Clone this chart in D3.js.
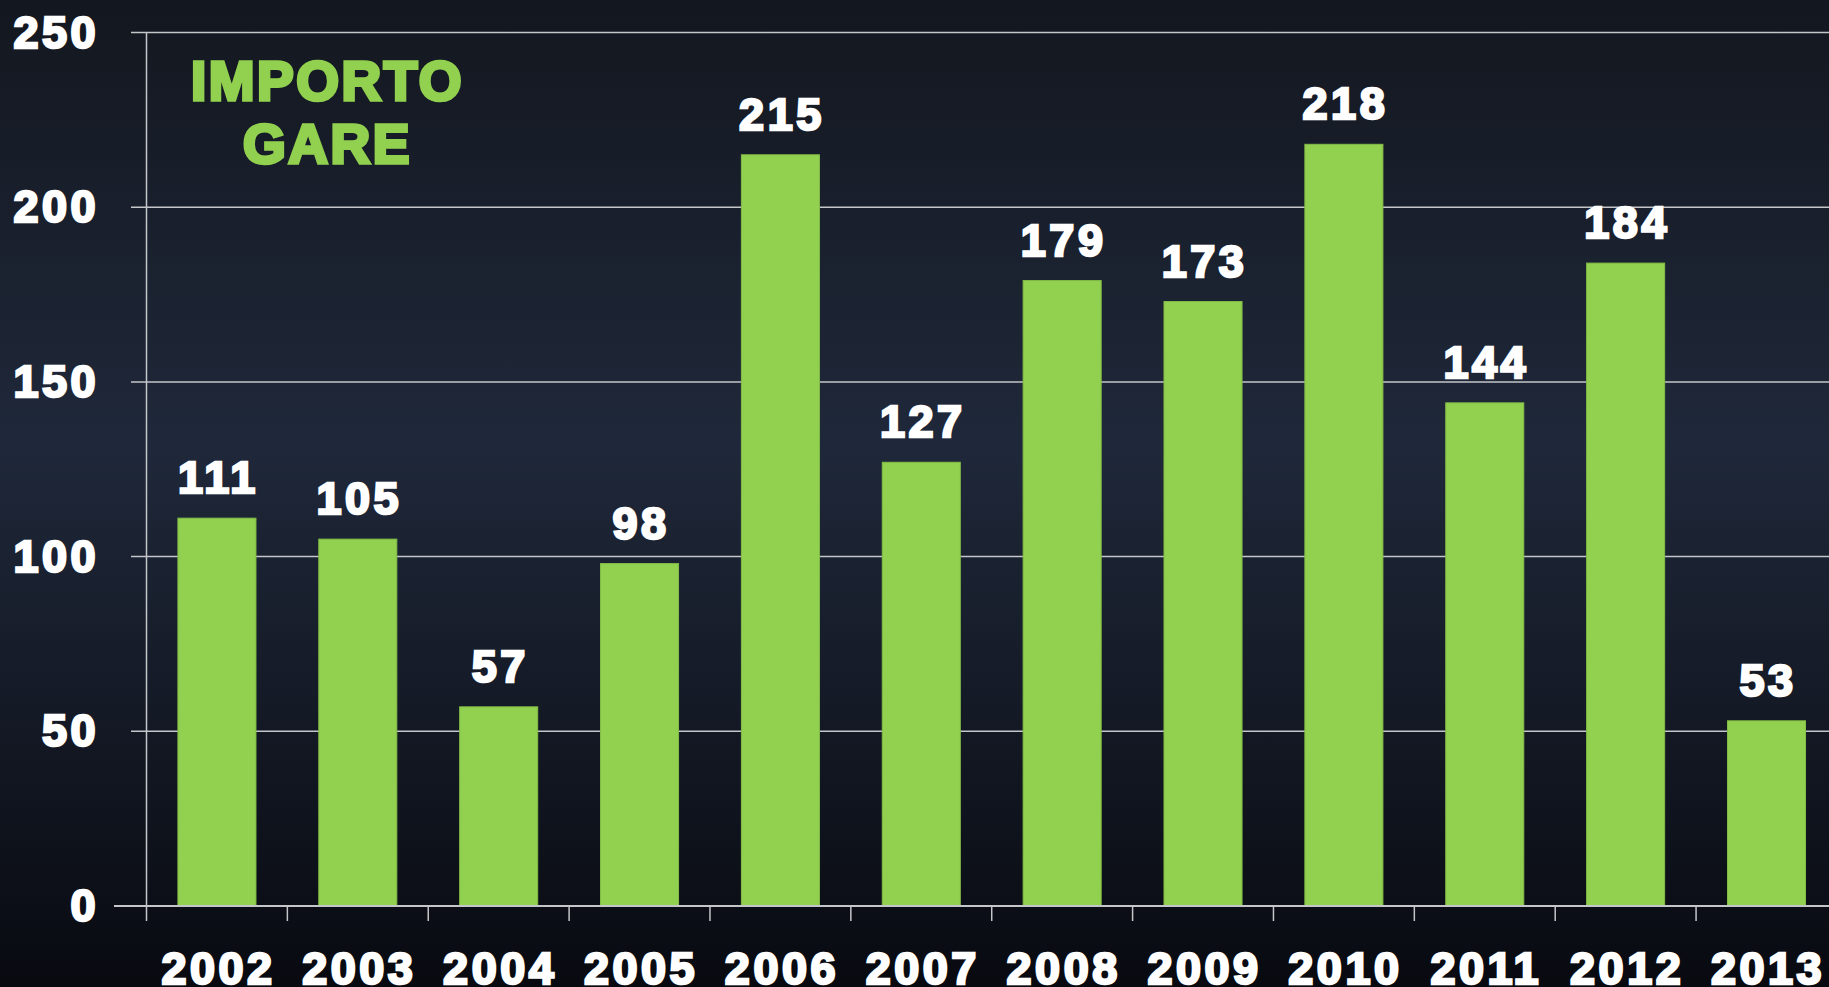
<!DOCTYPE html>
<html>
<head>
<meta charset="utf-8">
<script src="https://cdn.jsdelivr.net/npm/d3@7"></script>
<style>
  html, body { margin: 0; padding: 0; background: #0b0e15; overflow: hidden; }
  svg { display: block; }
  .tick-label, .value-label, .title {
    font-family: "Liberation Sans", Arial, sans-serif;
    font-weight: bold;
    paint-order: stroke;
  }
</style>
</head>
<body>
<div class="chart"></div>
<script>
const years = ["2002", "2003", "2004", "2005", "2006", "2007", "2008", "2009", "2010", "2011", "2012", "2013"];
const importo = [111, 105, 57, 98, 215, 127, 179, 173, 218, 144, 184, 53];
const yTicks = [0, 50, 100, 150, 200, 250];
const titleLines = ["IMPORTO", "GARE"];

const width = 1829;
const height = 987;
const green = "#92d050";
const gridColor = "#c4c6c9";

const svg = d3.select(".chart").append("svg")
  .attr("width", width)
  .attr("height", height);

// background gradient
const grad = svg.append("defs").append("linearGradient")
  .attr("id", "bg")
  .attr("x1", 0).attr("y1", 0).attr("x2", 0).attr("y2", 1);
grad.append("stop").attr("offset", "0%").attr("stop-color", "#13171f");
grad.append("stop").attr("offset", "45%").attr("stop-color", "#1f283a");
grad.append("stop").attr("offset", "100%").attr("stop-color", "#080a10");

svg.append("rect")
  .attr("width", width)
  .attr("height", height)
  .attr("fill", "url(#bg)");

const x0 = 146.5;
const step = 140.87;

const x = d3.scaleBand()
  .domain(years)
  .range([x0, x0 + step * years.length])
  .paddingInner(0.446)
  .paddingOuter(0.223);

const y = d3.scaleLinear()
  .domain([0, 250])
  .range([906, 32.5]);

// gridlines
svg.append("g")
  .selectAll("line")
  .data(yTicks.filter(d => d > 0))
  .enter()
  .append("line")
  .attr("x1", 131)
  .attr("x2", width)
  .attr("y1", d => y(d))
  .attr("y2", d => y(d))
  .attr("stroke", gridColor)
  .attr("stroke-width", 1.5);

// bars
svg.append("g")
  .selectAll("rect")
  .data(importo)
  .enter()
  .append("rect")
  .attr("x", (d, i) => x(years[i]))
  .attr("y", d => y(d))
  .attr("width", x.bandwidth())
  .attr("height", d => y(0) - y(d))
  .attr("fill", green)
  .attr("stroke", "#84bd47")
  .attr("stroke-width", 1);

// y axis line
svg.append("line")
  .attr("x1", x0).attr("x2", x0)
  .attr("y1", y(250)).attr("y2", 921)
  .attr("stroke", gridColor)
  .attr("stroke-width", 1.5);

// x axis (zero line + ticks)
svg.append("line")
  .attr("x1", 114).attr("x2", width)
  .attr("y1", y(0)).attr("y2", y(0))
  .attr("stroke", gridColor)
  .attr("stroke-width", 2);

svg.append("g")
  .selectAll("line")
  .data(years.slice(1))
  .enter()
  .append("line")
  .attr("x1", d => x(d) - x.step() * x.paddingInner() / 2)
  .attr("x2", d => x(d) - x.step() * x.paddingInner() / 2)
  .attr("y1", y(0))
  .attr("y2", 921)
  .attr("stroke", gridColor)
  .attr("stroke-width", 1.5);

// y tick labels
svg.append("g")
  .selectAll("text")
  .data(yTicks)
  .enter()
  .append("text")
  .attr("class", "tick-label")
  .attr("x", 99)
  .attr("y", d => y(d) + 15)
  .attr("text-anchor", "end")
  .attr("font-size", 45)
  .attr("letter-spacing", 3.5)
  .attr("fill", "#fff")
  .attr("stroke", "#fff")
  .attr("stroke-width", 2.5)
  .text(d => d);

// x tick labels
svg.append("g")
  .selectAll("text")
  .data(years)
  .enter()
  .append("text")
  .attr("class", "tick-label")
  .attr("x", d => x(d) + x.bandwidth() / 2 + 1.5)
  .attr("y", 984)
  .attr("text-anchor", "middle")
  .attr("font-size", 45)
  .attr("letter-spacing", 3.5)
  .attr("fill", "#fff")
  .attr("stroke", "#fff")
  .attr("stroke-width", 2.5)
  .text(d => d);

// value labels
svg.append("g")
  .selectAll("text")
  .data(importo)
  .enter()
  .append("text")
  .attr("class", "value-label")
  .attr("x", (d, i) => x(years[i]) + x.bandwidth() / 2 + 1.5)
  .attr("y", d => y(d) - 25)
  .attr("text-anchor", "middle")
  .attr("font-size", 45)
  .attr("letter-spacing", 3.5)
  .attr("fill", "#fff")
  .attr("stroke", "#fff")
  .attr("stroke-width", 2.5)
  .text(d => d);

// title
svg.append("g")
  .selectAll("text")
  .data(titleLines)
  .enter()
  .append("text")
  .attr("class", "title")
  .attr("x", 327.5)
  .attr("y", (d, i) => 100 + i * 63)
  .attr("text-anchor", "middle")
  .attr("font-size", 55)
  .attr("letter-spacing", 2.5)
  .attr("fill", green)
  .attr("stroke", green)
  .attr("stroke-width", 3.5)
  .text(d => d);
</script>
</body>
</html>
